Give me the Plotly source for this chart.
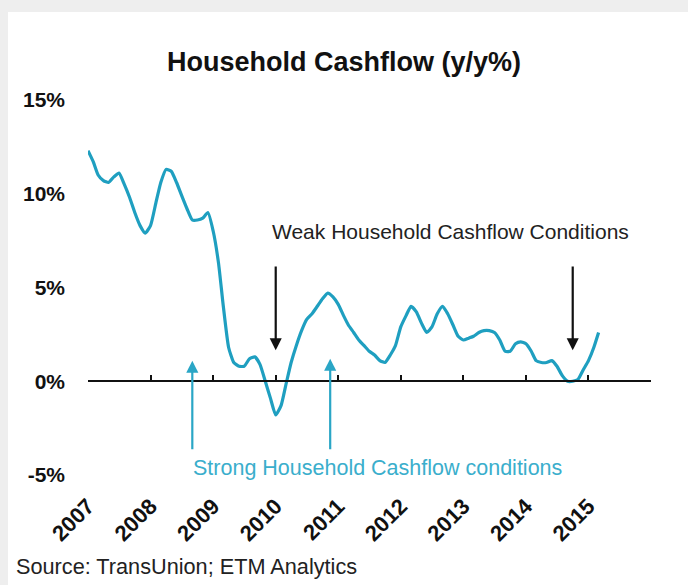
import pandas as pd
import plotly.graph_objects as go

# ---- data -------------------------------------------------------------
start_month = "2007-01-01"
cashflow_yy = [
    12.3, 11.7, 11.0, 10.7, 10.6, 10.9, 11.1, 10.5, 9.8, 9.0, 8.3, 7.9,
    8.3, 9.5, 10.6, 11.3, 11.2, 10.6, 9.9, 9.2, 8.6, 8.6, 8.7, 9.0,
    8.0, 6.3, 4.0, 1.8, 1.0, 0.8, 0.8, 1.2, 1.3, 0.9, 0.0, -0.9,
    -1.8, -1.3, -0.2, 1.0, 1.9, 2.7, 3.3, 3.6, 4.0, 4.4, 4.7, 4.5,
    4.1, 3.5, 3.0, 2.6, 2.2, 1.9, 1.6, 1.4, 1.1, 1.0, 1.4, 1.9,
    2.9, 3.5, 4.0, 3.7, 3.1, 2.6, 2.9, 3.6, 4.0, 3.6, 3.0, 2.4,
    2.2, 2.3, 2.4, 2.6, 2.7, 2.7, 2.6, 2.2, 1.6, 1.6, 2.0, 2.1,
    2.0, 1.6, 1.1, 1.0, 1.0, 1.1, 0.8, 0.3, 0.0, 0.0, 0.1, 0.6,
    1.1, 1.8, 2.6,
]
dates = pd.date_range(start_month, periods=len(cashflow_yy), freq="MS")

year_ticks = [2007, 2008, 2009, 2010, 2011, 2012, 2013, 2014, 2015, 2016]
year_labels = ["2007", "2008", "2009", "2010", "2011", "2012", "2013", "2014", "2015", ""]
y_ticks = [-5, 0, 5, 10, 15]
y_labels = ["-5%", "0%", "5%", "10%", "15%"]
y_range = [-5, 15]
x_range = ["2007-01-01", "2016-01-01"]

# arrows: (date, tip value, tail value)
weak_arrows = [("2010-01-01", 1.65, 6.2), ("2014-10-01", 1.65, 6.2)]
strong_arrows = [("2008-09-01", 1.1, -3.7), ("2010-11-15", 1.2, -3.7)]
weak_text = ("Weak Household Cashflow Conditions", "2012-10-20", 8.0)
strong_text = ("Strong Household Cashflow conditions", "2011-08-20", -4.6)

LINE = "#1f9fc0"
TEAL_ARROW = "#2aa6c6"
TEAL_TEXT = "#3aaecc"
FONT = "Liberation Sans, Arial, sans-serif"

fig = go.Figure()
fig.add_trace(go.Scatter(x=dates, y=cashflow_yy, mode="lines",
                         line=dict(color=LINE, width=3.2, shape="spline", smoothing=0.5),
                         hoverinfo="skip", showlegend=False))
# invisible copy to carry the zero-level axis
fig.add_trace(go.Scatter(x=dates, y=cashflow_yy, mode="lines", xaxis="x2",
                         line=dict(color="rgba(0,0,0,0)", width=0),
                         hoverinfo="skip", showlegend=False))

tickvals = [f"{y}-01-01" for y in year_ticks]
zero_pos = (0 - y_range[0]) / (y_range[1] - y_range[0])

annotations = []
for d, tip, tail in weak_arrows:
    annotations.append(dict(x=d, y=tip, ax=d, ay=tail, xref="x", yref="y",
                            axref="x", ayref="y", showarrow=True, text="",
                            arrowhead=2, arrowsize=1.1, arrowwidth=2.2,
                            arrowcolor="#111111"))
for d, tip, tail in strong_arrows:
    annotations.append(dict(x=d, y=tip, ax=d, ay=tail, xref="x", yref="y",
                            axref="x", ayref="y", showarrow=True, text="",
                            arrowhead=2, arrowsize=1.1, arrowwidth=2.2,
                            arrowcolor=TEAL_ARROW))
annotations.append(dict(text=weak_text[0], x=weak_text[1], y=weak_text[2],
                        xref="x", yref="y", showarrow=False,
                        font=dict(family=FONT, size=21, color="#222222")))
annotations.append(dict(text=strong_text[0], x=strong_text[1], y=strong_text[2],
                        xref="x", yref="y", showarrow=False,
                        font=dict(family=FONT, size=21.5, color=TEAL_TEXT)))
annotations.append(dict(text="Source: TransUnion; ETM Analytics", x=-0.132, y=-0.245,
                        xref="paper", yref="paper", xanchor="left", yanchor="middle",
                        showarrow=False, font=dict(family=FONT, size=21.7, color="#222222")))

fig.update_layout(
    width=688, height=585,
    margin=dict(l=88, r=37, t=100, b=110),
    paper_bgcolor="#eeeeee",
    plot_bgcolor="rgba(0,0,0,0)",
    title=dict(text="<b>Household Cashflow (y/y%)</b>", x=0.5, xanchor="center",
               y=1 - 62 / 585, yanchor="middle", yref="container",
               font=dict(family=FONT, size=27, color="#111111")),
    xaxis=dict(type="date", range=x_range, tickvals=tickvals,
               ticktext=[f"<b>{t}</b>" if t else "" for t in year_labels],
               tickangle=-45, showgrid=False, zeroline=False, showline=False,
               ticks="", ticklabelstandoff=13,
               tickfont=dict(family=FONT, size=22, color="#111111")),
    xaxis2=dict(type="date", range=x_range, overlaying="x", anchor="free",
                position=zero_pos, side="bottom", tickvals=tickvals,
                showticklabels=False, showgrid=False, zeroline=False,
                showline=True, linecolor="#111111", linewidth=2.2,
                ticks="inside", ticklen=5, tickwidth=2.2, tickcolor="#111111"),
    yaxis=dict(range=y_range, tickvals=y_ticks,
               ticktext=[f"<b>{t}</b>" for t in y_labels],
               showgrid=False, zeroline=False, showline=False, ticks="",
               ticklabelstandoff=22,
               tickfont=dict(family=FONT, size=21, color="#111111")),
    annotations=annotations,
    shapes=[dict(type="rect", xref="paper", yref="paper",
                 x0=(8 - 88) / 563, x1=(688 - 88) / 563 + 0.01,
                 y0=(475 - 590) / 375, y1=(475 - 12) / 375,
                 fillcolor="white", line=dict(width=0), layer="below")],
)
fig.write_html("out.html")
